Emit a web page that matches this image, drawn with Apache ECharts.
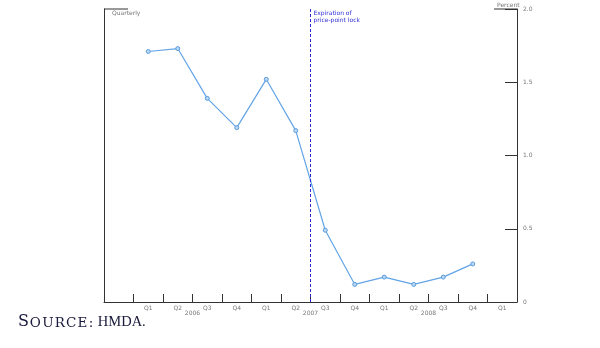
<!DOCTYPE html>
<html><head><meta charset="utf-8">
<script src="https://cdn.jsdelivr.net/npm/echarts@6/dist/echarts.min.js"></script>
<style>html,body{margin:0;padding:0;background:#fff}#c{width:600px;height:348px}</style>
</head><body><div id="c"></div>
<script>
// ---- data ----
const quarterLabels = ['', 'Q1','Q2','Q3','Q4','Q1','Q2','Q3','Q4','Q1','Q2','Q3','Q4','Q1'];
const yearLabels = ['2006', '2007', '2008'];
const shareValues = [null, 1.71, 1.73, 1.39, 1.19, 1.52, 1.17, 0.49, 0.12, 0.17, 0.12, 0.17, 0.26, null];
const yTickValues = [0, 0.5, 1.0, 1.5, 2.0];
const eventCategoryIndex = 7; // line drawn at the left edge of Q3 2007
const eventText = ['Expiration of', 'price-point lock'];
const leftUnit = 'Quarterly';
const rightUnit = 'Percent';
const sourceWord = 'SOURCE:';
const sourceName = 'HMDA.';

// ---- chart ----
const chart = echarts.init(document.getElementById('c'), null, {renderer: 'canvas'});
const axisColor = '#333';
const labelColor = '#777';
const n = quarterLabels.length;
const yMax = yTickValues[yTickValues.length - 1];
const yStep = yTickValues[1] - yTickValues[0];

const option = {
  animation: false,
  backgroundColor: '#fff',
  grid: {left: 104, right: 83, top: 9, bottom: 46},
  xAxis: [{
    type: 'category', data: quarterLabels, boundaryGap: true,
    axisLine: {show: true, lineStyle: {color: axisColor, width: 1}},
    axisTick: {show: true, alignWithLabel: false, inside: true, length: 8, interval: 0, lineStyle: {color: axisColor, width: 1}},
    axisLabel: {interval: 0, margin: 3, fontSize: 6, color: labelColor, fontFamily: 'DejaVu Sans'},
    splitLine: {show: false}
  }, {
    type: 'value', min: 0, max: n, interval: 1, position: 'bottom',
    axisLine: {show: false}, axisTick: {show: false}, splitLine: {show: false},
    axisLabel: {
      margin: 8, fontSize: 6, color: labelColor, fontFamily: 'DejaVu Sans',
      showMinLabel: true, showMaxLabel: true,
      formatter: function (v) {
        const k = (v - 3) / 4;
        return (Number.isInteger(k) && yearLabels[k]) ? yearLabels[k] : '';
      }
    }
  }],
  yAxis: [{
    type: 'value', position: 'left', min: 0, max: yMax, interval: yStep,
    axisLine: {show: true, lineStyle: {color: axisColor, width: 1}},
    axisTick: {show: false}, axisLabel: {show: false}, splitLine: {show: false}
  }, {
    type: 'value', position: 'right', min: 0, max: yMax, interval: yStep,
    axisLine: {show: true, lineStyle: {color: axisColor, width: 1}},
    axisTick: {show: true, inside: true, length: 12, lineStyle: {color: axisColor}},
    axisLabel: {margin: 6, fontSize: 6, color: labelColor, fontFamily: 'DejaVu Sans',
      formatter: v => v === 0 ? '0' : v.toFixed(1)},
    splitLine: {show: false}
  }],
  series: [{
    type: 'line', xAxisIndex: 0, yAxisIndex: 1, data: shareValues,
    symbol: 'circle', symbolSize: 4, connectNulls: false,
    lineStyle: {color: '#62a4e6', width: 1.2},
    itemStyle: {color: '#b8d8f4', borderColor: '#5a9bdc', borderWidth: 1}
  }, {
    type: 'line', xAxisIndex: 1, yAxisIndex: 1, data: [],
    markLine: {
      silent: true, symbol: 'none', label: {show: false},
      lineStyle: {color: '#2a2ad0', type: [3, 2], width: 1},
      data: [{xAxis: eventCategoryIndex}]
    }
  }]
};
chart.setOption(option);

// annotation texts positioned from the chart's own scales
const g = chart.getModel().getComponent('grid').coordinateSystem.getRect();
const evX = chart.convertToPixel({xAxisIndex: 1}, eventCategoryIndex);

// small-caps source line built from letters
const footColor = '#1a1a3c';
const rich = {
  big: {fontSize: 16, fontFamily: 'DejaVu Serif', fill: footColor, verticalAlign: 'bottom', padding: [0, 0.3, 0, 0]},
  sm: {fontSize: 13.5, fontFamily: 'DejaVu Serif', fill: footColor, verticalAlign: 'bottom', padding: [0, 0.6, 0, 0.6]},
  nm: {fontSize: 14.5, fontFamily: 'Liberation Serif', fill: footColor, verticalAlign: 'bottom', padding: [0, 0, 0, 4]}
};
let footText = '{big|' + sourceWord[0] + '}';
for (const ch of sourceWord.slice(1)) footText += '{sm|' + ch + '}';
footText += '{nm|' + sourceName + '}';

chart.setOption({
  graphic: [
    {type: 'line', shape: {x1: g.x, y1: g.y, x2: g.x + 24, y2: g.y}, style: {stroke: axisColor, lineWidth: 1}},
    {type: 'line', shape: {x1: g.x + g.width - 23, y1: g.y, x2: g.x + g.width, y2: g.y}, style: {stroke: axisColor, lineWidth: 1}},
    {type: 'text', x: g.x + 8, y: g.y + 1, style: {text: leftUnit, fontSize: 6, fill: labelColor, fontFamily: 'DejaVu Sans'}},
    {type: 'text', x: g.x + g.width - 20, y: g.y - 7, style: {text: rightUnit, fontSize: 6, fill: labelColor, fontFamily: 'DejaVu Sans'}},
    {type: 'text', x: evX + 3, y: g.y + 1, style: {text: eventText.join('\n'), fontSize: 6, lineHeight: 7, fill: '#3030d8', fontFamily: 'DejaVu Sans'}},
    {type: 'text', x: 18, y: 314, style: {text: footText, rich: rich}}
  ]
});
</script>
</body></html>
